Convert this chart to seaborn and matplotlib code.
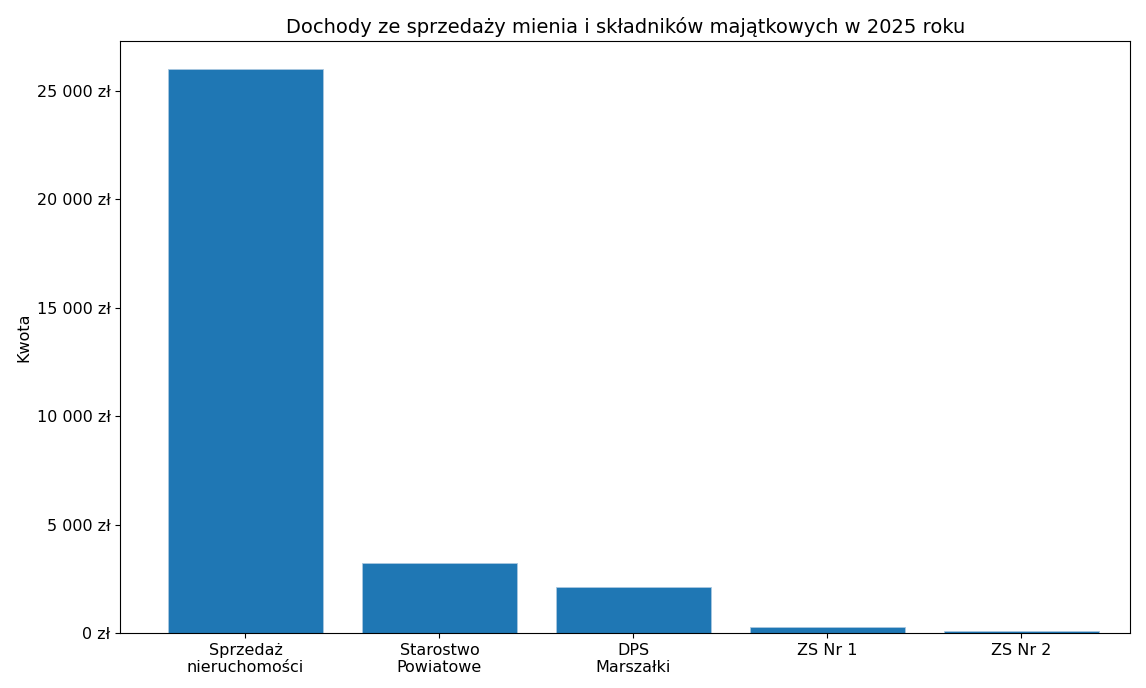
import matplotlib
matplotlib.use('Agg')
import matplotlib.pyplot as plt
from matplotlib.ticker import FuncFormatter
import seaborn as sns
import pandas as pd

# data
categories = ['Sprzedaż\nnieruchomości', 'Starostwo\nPowiatowe', 'DPS\nMarszałki', 'ZS Nr 1', 'ZS Nr 2']
amounts = [26000, 3220, 2100, 280, 90]

df = pd.DataFrame({'kategoria': categories, 'kwota': amounts})

def zl_format(x, pos):
    return '{:,.0f} zł'.format(x).replace(',', ' ')

fig, ax = plt.subplots(figsize=(11.46, 6.88), dpi=100)
sns.barplot(data=df, x='kategoria', y='kwota', color='#1f77b4', saturation=1,
            width=0.8, edgecolor='#aac8e0', linewidth=0.6, ax=ax)

ax.set_title('Dochody ze sprzedaży mienia i składników majątkowych w 2025 roku', fontsize=14)
ax.set_xlabel('')
ax.set_ylabel('Kwota', fontsize=11.5)
ax.yaxis.set_major_formatter(FuncFormatter(zl_format))
ax.tick_params(labelsize=11.5)
ax.set_xlim(-0.645, 4.56)

plt.subplots_adjust(left=0.105, right=0.986, top=0.94, bottom=0.08)
plt.savefig('out.png', dpi=100)
